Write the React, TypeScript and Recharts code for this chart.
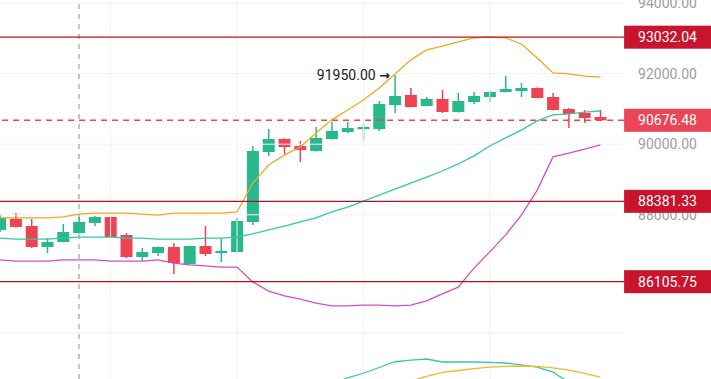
import React from "react";
import { ComposedChart, Bar, Line, XAxis, YAxis, ReferenceLine, ReferenceDot } from "recharts";

// candles, left to right
const opens = [87569, 87881, 87682, 87087, 87229, 87484, 87767, 87937, 87427, 86804, 86917, 87087, 86606, 87116, 86917, 86946, 87796, 89779, 90147, 89949, 89807, 90147, 90345, 90430, 90430, 91110, 91394, 91082, 91280, 90912, 91195, 91337, 91479, 91507, 91592, 91337, 90997, 90884, 90770];
const closes = [87909, 87654, 87087, 87229, 87512, 87796, 87937, 87371, 86804, 86946, 87087, 86634, 87116, 86889, 86974, 87824, 89807, 90147, 89920, 89835, 90175, 90374, 90459, 90487, 91139, 91365, 91054, 91280, 90912, 91224, 91365, 91479, 91564, 91592, 91309, 90969, 90855, 90742, 90676.48];
const highs = [87994, 88051, 87881, 87342, 87739, 87937, 87966, 87960, 87484, 87059, 87100, 87201, 87130, 87682, 87342, 87909, 89949, 90430, 90170, 90090, 90487, 90629, 90629, 90600, 91224, 91950, 91592, 91337, 91535, 91450, 91479, 91507, 91932, 91734, 91610, 91450, 91025, 90969, 90969];
const lows = [87512, 87640, 87059, 86917, 87220, 87470, 87682, 87360, 86776, 86691, 86833, 86323, 86590, 86833, 86663, 86930, 87711, 89666, 89722, 89496, 89790, 90130, 90317, 90090, 90374, 90884, 91040, 91070, 90884, 90900, 91139, 91195, 91470, 91337, 91300, 90955, 90459, 90600, 90670];

// bollinger bands
const upperBand = [87910, 87910, 87910, 87910, 87940, 88020, 88050, 88050, 88050, 88020, 87990, 88050, 88050, 88050, 88050, 88080, 88900, 89410, 89690, 89920, 90320, 90690, 90970, 91250, 91590, 91990, 92390, 92670, 92780, 92900, 93010, 93040, 93010, 92840, 92440, 92020, 91990, 91930, 91900];
const midBand = [87340, 87310, 87310, 87310, 87340, 87370, 87370, 87370, 87340, 87340, 87310, 87310, 87310, 87340, 87340, 87370, 87460, 87570, 87680, 87800, 87910, 88080, 88220, 88390, 88560, 88730, 88900, 89070, 89240, 89440, 89670, 89950, 90180, 90400, 90660, 90830, 90860, 90910, 90940];
const lowerBand = [86720, 86690, 86690, 86690, 86720, 86720, 86720, 86690, 86690, 86690, 86720, 86630, 86580, 86550, 86520, 86520, 86100, 85840, 85700, 85610, 85500, 85420, 85420, 85440, 85440, 85420, 85440, 85560, 85760, 85950, 86490, 86950, 87430, 87990, 88700, 89640, 89750, 89860, 89980];

// lower pane oscillator (only the top of it is visible)
const oscFast = [null, null, null, null, null, null, null, null, null, null, null, null, null, null, null, null, null, null, null, null, null, -4, 1, 5, 10, 15, 16.5, 17.4, 14.8, 14.8, 14.8, 14.4, 13.9, 12.2, 10.4, 6, -3, -12, null];
const oscSlow = [null, null, null, null, null, null, null, null, null, null, null, null, null, null, null, null, null, null, null, null, null, null, null, null, null, -5, -1.7, 2.2, 5.7, 7.4, 9.1, 10.4, 10.9, 11.3, 10.9, 9.6, 7.8, 4.8, 1.7];

const priceTicks = [88000, 90000, 92000, 94000];
const levels = [93032.04, 88381.33, 86105.75];
const lastPrice = 90676.48;
const peakIndex = 25;
const peakPrice = 91950;
const gridCandles = [7, 15, 23, 31];
const crosshairCandle = 5;

const UP = "#27b88c";
const DOWN = "#ee4352";

const rows = Array.from({ length: opens.length + 1 }, (_, i) =>
  i < opens.length
    ? {
        i,
        open: opens[i],
        close: closes[i],
        high: highs[i],
        low: lows[i],
        upper: upperBand[i],
        mid: midBand[i],
        lower: lowerBand[i],
        fast: oscFast[i],
        slow: oscSlow[i],
      }
    : { i }
);

function Candle(props: any) {
  const { x, y, width, height, payload } = props;
  if (!payload || payload.open == null) return null;
  const { open, close, high, low } = payload;
  const color = close >= open ? UP : DOWN;
  const top = Math.min(y, y + height);
  const h = Math.abs(height);
  const k = h / (high - low);
  const bodyTop = top + (high - Math.max(open, close)) * k;
  const bodyBot = top + (high - Math.min(open, close)) * k;
  const cx = x + width / 2;
  return (
    <g>
      <line x1={cx} x2={cx} y1={top} y2={top + h} stroke={color} strokeWidth={1.5} />
      <rect x={x} y={bodyTop} width={width} height={Math.max(1.5, bodyBot - bodyTop)} fill={color} />
    </g>
  );
}

// price text sitting in the right gutter, at the end of a horizontal reference line
function gutterText(text: string, fill: string, box?: string) {
  return (p: any) => {
    const { x, y, width } = p.viewBox;
    const left = x + width;
    return (
      <g>
        {box && <rect x={left} y={y - 11.5} width={90} height={23} fill={box} />}
        <text x={left + 14} y={y} dy="0.36em" fill={fill} fontSize={14}>
          {text}
        </text>
      </g>
    );
  };
}

export default function App() {
  return (
    <div style={{ width: 711, height: 379, background: "#fff", fontFamily: "Roboto" }}>
      <style>{"body{margin:0}"}</style>
      <ComposedChart width={711} height={379} data={rows} margin={{ top: 0, right: 0, bottom: 0, left: -7.9 }}>
        <XAxis dataKey="i" type="category" hide />
        <YAxis orientation="right" width={86.9} domain={[83348, 94085]} allowDataOverflow ticks={priceTicks} axisLine={false} tickLine={false} tick={false} />
        <YAxis yAxisId="osc" hide domain={[0, 329.7]} allowDataOverflow />

        {priceTicks.map((t) => (
          <ReferenceLine key={"h" + t} y={t} stroke="#f3f3f3" label={gutterText(t.toFixed(2), "#9e9e9e")} />
        ))}
        {gridCandles.map((c) => (
          <ReferenceLine key={"v" + c} x={c} stroke="#f1f1f1" />
        ))}
        <ReferenceLine yAxisId="osc" y={40} stroke="#eeeeee" />
        <ReferenceLine x={crosshairCandle} stroke="#8a8a8a" strokeDasharray="5 5" />

        <Bar dataKey={(d: any) => (d.high != null ? [d.low, d.high] : null)} barSize={12} shape={Candle} isAnimationActive={false} />

        <Line dataKey="upper" stroke="#f5a623" strokeWidth={1.3} dot={false} activeDot={false} isAnimationActive={false} />
        <Line dataKey="mid" stroke="#33c9a2" strokeWidth={1.3} dot={false} activeDot={false} isAnimationActive={false} />
        <Line dataKey="lower" stroke="#d54fc2" strokeWidth={1.3} dot={false} activeDot={false} isAnimationActive={false} />
        <Line yAxisId="osc" dataKey="fast" stroke="#33c9a2" strokeWidth={1.3} dot={false} activeDot={false} isAnimationActive={false} />
        <Line yAxisId="osc" dataKey="slow" stroke="#f5b52c" strokeWidth={1.3} dot={false} activeDot={false} isAnimationActive={false} />

        {levels.map((v) => (
          <ReferenceLine key={"l" + v} y={v} stroke="#b5121f" strokeWidth={1.2} label={gutterText(v.toFixed(2), "#fff", "#c8142c")} />
        ))}
        <ReferenceLine y={lastPrice} stroke="#e8485a" strokeWidth={1.5} strokeDasharray="6 5" label={gutterText(lastPrice.toFixed(2), "#fff", "#ea4657")} />

        <ReferenceDot
          x={peakIndex}
          y={peakPrice}
          r={0}
          shape={(p: any) => (
            <text x={p.cx - 5} y={p.cy} dy="0.35em" textAnchor="end" fill="#222" fontSize={14}>
              {peakPrice.toFixed(2) + " "}
              <tspan fontFamily="DejaVu Sans" fontWeight="bold" fontSize={13}>→</tspan>
            </text>
          )}
        />
      </ComposedChart>
    </div>
  );
}
